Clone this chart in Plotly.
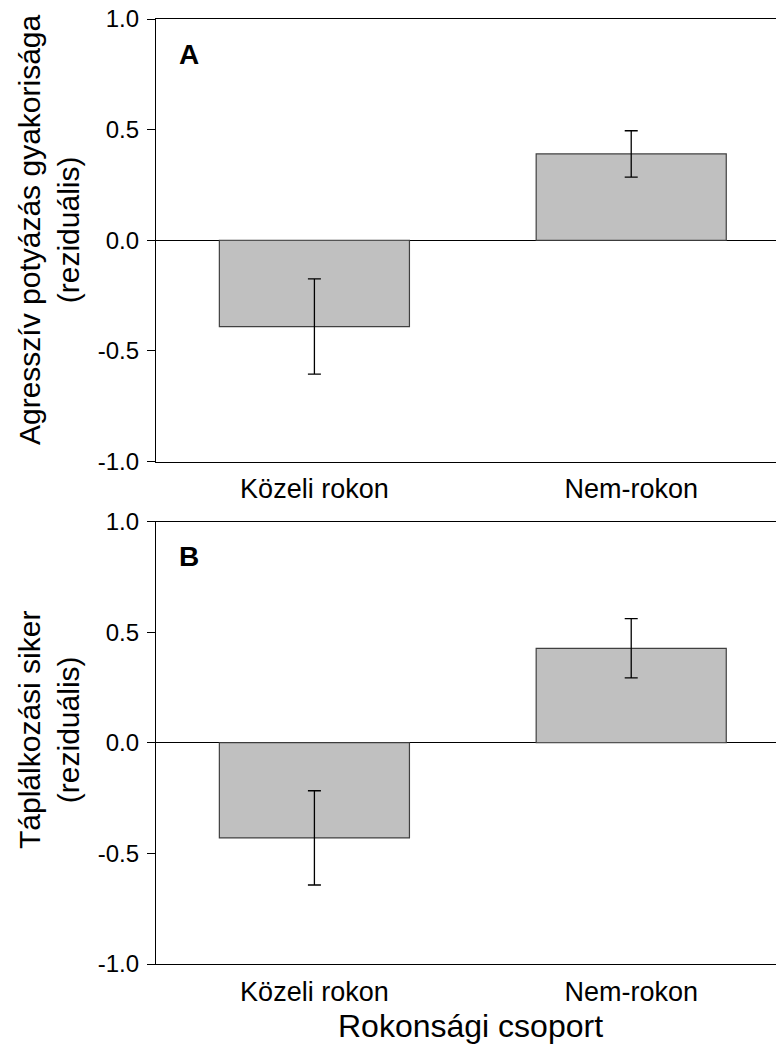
import plotly.graph_objects as go

categories = ["Közeli rokon", "Nem-rokon"]
aggr_means = [-0.39, 0.39]
aggr_err = [0.215, 0.105]
feed_means = [-0.43, 0.427]
feed_err = [0.213, 0.134]
y_ticks = [-1.0, -0.5, 0.0, 0.5, 1.0]
y_tick_text = ["-1.0", "-0.5", "0.0", "0.5", "1.0"]

FONT = "Liberation Sans, Arial, sans-serif"
W, H = 776, 1048
ML, MR, MT, MB = 156, 0, 19, 84
plot_h = H - MT - MB

def py(px):
    # pixel (from top) -> paper y
    return (H - MB - px) / plot_h

def pxp(px):
    return (px - ML) / (W - ML - MR)

fig = go.Figure()
xs = [0, 1]
for i, (means, errs) in enumerate([(aggr_means, aggr_err), (feed_means, feed_err)]):
    suf = "" if i == 0 else "2"
    fig.add_trace(go.Bar(
        x=xs, y=means, width=0.6,
        marker=dict(color="#c0c0c0", line=dict(color="#404040", width=1.2)),
        error_y=dict(type="data", array=errs, visible=True, color="black",
                     thickness=1.3, width=6.5),
        xaxis="x" + suf, yaxis="y" + suf, showlegend=False,
    ))

top_dom = [py(461.5), 1.0]
bot_dom = [0.0, py(521.5)]

xcommon = dict(range=[-0.5, 1.457], tickmode="array", tickvals=xs, ticktext=categories,
               showline=True, linecolor="black", linewidth=1.3, mirror=True,
               ticks="", showgrid=False, zeroline=False, ticklabelstandoff=3,
               tickfont=dict(family=FONT, size=27, color="black"))
ycommon = dict(range=[-1.0, 1.0], tickmode="array", tickvals=y_ticks, ticktext=y_tick_text,
               showline=True, linecolor="black", linewidth=1.3, mirror=False,
               ticks="outside", ticklen=8, tickwidth=1.3, tickcolor="black",
               showgrid=False, zeroline=True, zerolinecolor="black", zerolinewidth=1.3,
               ticklabelstandoff=3,
               tickfont=dict(family=FONT, size=24, color="black"))

fig.update_layout(
    width=W, height=H,
    margin=dict(l=ML, r=MR, t=MT, b=MB),
    paper_bgcolor="white", plot_bgcolor="white",
    xaxis=dict(domain=[0, 1], anchor="y", **xcommon),
    yaxis=dict(domain=top_dom, anchor="x", **ycommon),
    xaxis2=dict(domain=[0, 1], anchor="y2", **xcommon),
    yaxis2=dict(domain=bot_dom, anchor="x2", **ycommon),
    font=dict(family=FONT, color="black"),
)

anns = [
    dict(text="<b>A</b>", x=-0.396, y=0.84, xref="x", yref="y", showarrow=False,
         font=dict(family=FONT, size=28, color="black")),
    dict(text="<b>B</b>", x=-0.396, y=0.84, xref="x2", yref="y2", showarrow=False,
         font=dict(family=FONT, size=28, color="black")),
    dict(text="Agresszív potyázás gyakorisága<br>(reziduális)", textangle=-90,
         x=pxp(49), y=py(230), xref="paper", yref="paper", showarrow=False,
         xanchor="center", yanchor="middle",
         font=dict(family=FONT, size=30, color="black")),
    dict(text="Táplálkozási siker<br>(reziduális)", textangle=-90,
         x=pxp(49), y=py(730), xref="paper", yref="paper", showarrow=False,
         xanchor="center", yanchor="middle",
         font=dict(family=FONT, size=30, color="black")),
    dict(text="Rokonsági csoport", x=pxp(470), y=py(1026), xref="paper", yref="paper",
         showarrow=False, xanchor="center", yanchor="middle",
         font=dict(family=FONT, size=32, color="black")),
]
fig.update_layout(annotations=anns)

fig.write_html("out.html")
